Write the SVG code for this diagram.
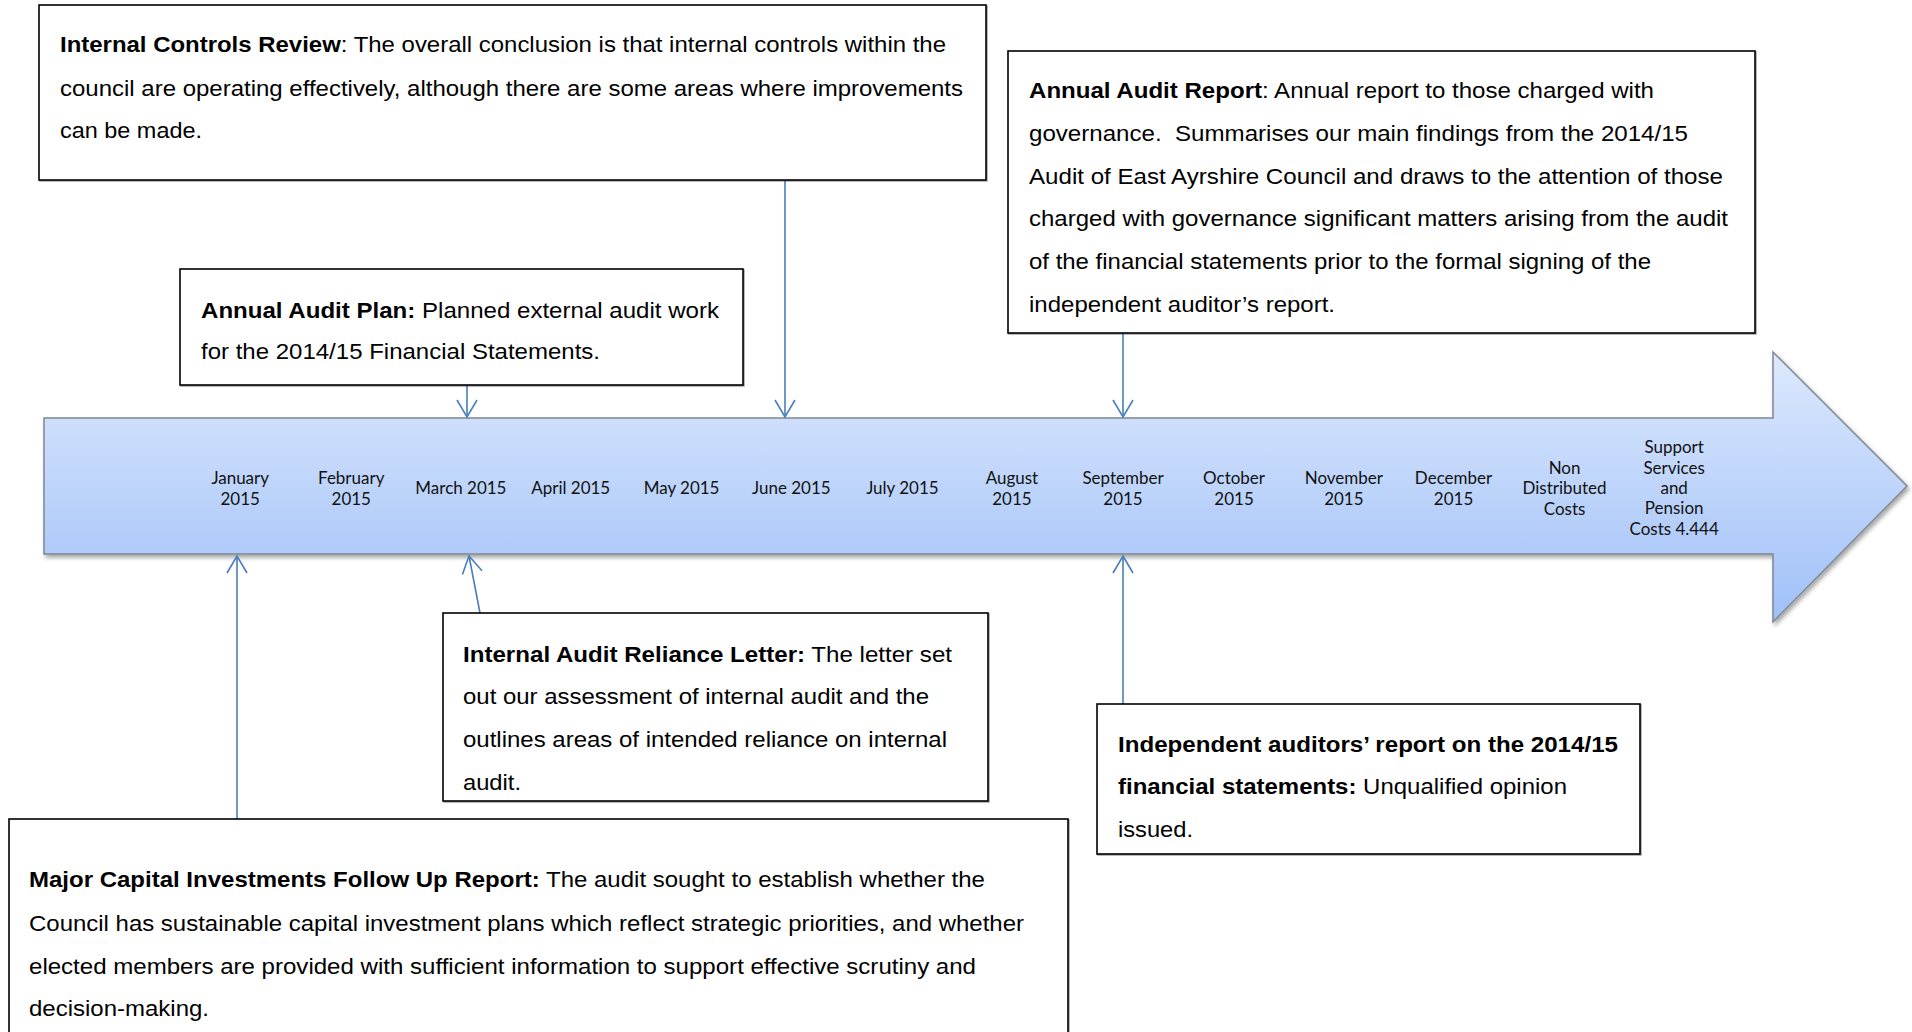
<svg xmlns="http://www.w3.org/2000/svg" width="1912" height="1032" viewBox="0 0 1912 1032">
<style>
.box{fill:#fff;stroke:#000;stroke-width:1.6;filter:url(#bsh)}
.bt{font-family:"Liberation Sans",Arial,sans-serif;font-size:22.5px;fill:#000}
.b{font-weight:bold}
.conn{stroke:#4a7ebb;stroke-width:1.6;fill:none;marker-end:url(#arr)}
.lbl{font-family:Lato,"Open Sans",sans-serif;font-size:16.5px;fill:#111;text-anchor:middle}
</style>
<defs>
<linearGradient id="ag" x1="0" y1="0" x2="0" y2="1">
<stop offset="0" stop-color="#dde9fd"/>
<stop offset="1" stop-color="#9fc0f8"/>
</linearGradient>
<filter id="sh" x="-5%" y="-10%" width="110%" height="130%">
<feDropShadow dx="2" dy="3" stdDeviation="2" flood-color="#000" flood-opacity="0.35"/>
</filter>
<filter id="bsh" x="-5%" y="-10%" width="110%" height="130%">
<feDropShadow dx="1" dy="1" stdDeviation="0.6" flood-color="#000" flood-opacity="0.35"/>
</filter>
<marker id="arr" markerUnits="userSpaceOnUse" markerWidth="24" markerHeight="24" refX="18" refY="11" orient="auto" overflow="visible">
<path d="M1,1 L18,11 L1,21" fill="none" stroke="#4a7ebb" stroke-width="1.6"/>
</marker>
</defs>
<rect width="1912" height="1032" fill="#fff"/>

<g id="timeline">
<path d="M44,418 L1773,418 L1773,352 L1907,486 L1773,622 L1773,554 L44,554 Z" fill="url(#ag)" stroke="#7f8793" stroke-width="1.5" filter="url(#sh)"/>
<g transform="scale(1.03,1)">
<text class="lbl" x="233.2" y="484">January</text><text class="lbl" x="233.2" y="505">2015</text>
<text class="lbl" x="341" y="484">February</text><text class="lbl" x="341" y="505">2015</text>
<text class="lbl" x="447.5" y="494">March 2015</text>
<text class="lbl" x="554.1" y="494">April 2015</text>
<text class="lbl" x="661.7" y="494">May 2015</text>
<text class="lbl" x="768.3" y="494">June 2015</text>
<text class="lbl" x="876.1" y="494">July 2015</text>
<text class="lbl" x="982.5" y="484">August</text><text class="lbl" x="982.5" y="505">2015</text>
<text class="lbl" x="1090.3" y="484">September</text><text class="lbl" x="1090.3" y="505">2015</text>
<text class="lbl" x="1198.1" y="484">October</text><text class="lbl" x="1198.1" y="505">2015</text>
<text class="lbl" x="1304.7" y="484">November</text><text class="lbl" x="1304.7" y="505">2015</text>
<text class="lbl" x="1411.2" y="484">December</text><text class="lbl" x="1411.2" y="505">2015</text>
<text class="lbl" x="1519" y="474">Non</text><text class="lbl" x="1519" y="494.5">Distributed</text><text class="lbl" x="1519" y="515">Costs</text>
<text class="lbl" x="1625.4" y="453">Support</text><text class="lbl" x="1625.4" y="474">Services</text><text class="lbl" x="1625.4" y="494">and</text><text class="lbl" x="1625.4" y="514.5">Pension</text><text class="lbl" x="1625.4" y="535">Costs 4.444</text>
</g>
</g>

<g id="connectors">
<line class="conn" x1="785" y1="181" x2="785" y2="417"/>
<line class="conn" x1="467" y1="386" x2="467" y2="417"/>
<line class="conn" x1="1123" y1="334" x2="1123" y2="417"/>
<line class="conn" x1="237" y1="819" x2="237" y2="556"/>
<line class="conn" x1="480" y1="613" x2="469" y2="556"/>
<line class="conn" x1="1123" y1="704" x2="1123" y2="556"/>
</g>

<g id="internal-controls-review">
<rect class="box" x="39" y="5" width="947" height="175"/>
<text class="bt" x="60" y="51.5" textLength="886" lengthAdjust="spacingAndGlyphs"><tspan class="b">Internal Controls Review</tspan>: The overall conclusion is that internal controls within the</text>
<text class="bt" x="60" y="95.5" textLength="903" lengthAdjust="spacingAndGlyphs">council are operating effectively, although there are some areas where improvements</text>
<text class="bt" x="60" y="138" textLength="142" lengthAdjust="spacingAndGlyphs">can be made.</text>
</g>

<g id="annual-audit-plan">
<rect class="box" x="180" y="269" width="563" height="116"/>
<text class="bt" x="201" y="317.5" textLength="518" lengthAdjust="spacingAndGlyphs"><tspan class="b">Annual Audit Plan:</tspan> Planned external audit work</text>
<text class="bt" x="201" y="358.5" textLength="399" lengthAdjust="spacingAndGlyphs">for the 2014/15 Financial Statements.</text>
</g>

<g id="annual-audit-report">
<rect class="box" x="1008" y="51" width="747" height="282"/>
<text class="bt" x="1029" y="97.5" textLength="625" lengthAdjust="spacingAndGlyphs"><tspan class="b">Annual Audit Report</tspan>: Annual report to those charged with</text>
<text class="bt" x="1029" y="140.5" textLength="659" lengthAdjust="spacingAndGlyphs">governance.&#160; Summarises our main findings from the 2014/15</text>
<text class="bt" x="1029" y="183.5" textLength="694" lengthAdjust="spacingAndGlyphs">Audit of East Ayrshire Council and draws to the attention of those</text>
<text class="bt" x="1029" y="225.5" textLength="699" lengthAdjust="spacingAndGlyphs">charged with governance significant matters arising from the audit</text>
<text class="bt" x="1029" y="268.5" textLength="622" lengthAdjust="spacingAndGlyphs">of the financial statements prior to the formal signing of the</text>
<text class="bt" x="1029" y="311.5" textLength="306" lengthAdjust="spacingAndGlyphs">independent auditor’s report.</text>
</g>

<g id="internal-audit-reliance-letter">
<rect class="box" x="443" y="613" width="545" height="188"/>
<text class="bt" x="463" y="661.5" textLength="489" lengthAdjust="spacingAndGlyphs"><tspan class="b">Internal Audit Reliance Letter:</tspan> The letter set</text>
<text class="bt" x="463" y="703.5" textLength="466" lengthAdjust="spacingAndGlyphs">out our assessment of internal audit and the</text>
<text class="bt" x="463" y="746.5" textLength="484" lengthAdjust="spacingAndGlyphs">outlines areas of intended reliance on internal</text>
<text class="bt" x="463" y="789.5" textLength="58" lengthAdjust="spacingAndGlyphs">audit.</text>
</g>

<g id="independent-auditors-report">
<rect class="box" x="1097" y="704" width="543" height="150"/>
<text class="bt" x="1118" y="751.5" textLength="500" lengthAdjust="spacingAndGlyphs"><tspan class="b">Independent auditors’ report on the 2014/15</tspan></text>
<text class="bt" x="1118" y="793.5" textLength="449" lengthAdjust="spacingAndGlyphs"><tspan class="b">financial statements:</tspan> Unqualified opinion</text>
<text class="bt" x="1118" y="836.5" textLength="75" lengthAdjust="spacingAndGlyphs">issued.</text>
</g>

<g id="major-capital-investments">
<rect class="box" x="9" y="819" width="1059" height="240"/>
<text class="bt" x="29" y="886.5" textLength="956" lengthAdjust="spacingAndGlyphs"><tspan class="b">Major Capital Investments Follow Up Report:</tspan> The audit sought to establish whether the</text>
<text class="bt" x="29" y="930.5" textLength="995" lengthAdjust="spacingAndGlyphs">Council has sustainable capital investment plans which reflect strategic priorities, and whether</text>
<text class="bt" x="29" y="973.5" textLength="947" lengthAdjust="spacingAndGlyphs">elected members are provided with sufficient information to support effective scrutiny and</text>
<text class="bt" x="29" y="1015.5" textLength="180" lengthAdjust="spacingAndGlyphs">decision-making.</text>
</g>
</svg>
